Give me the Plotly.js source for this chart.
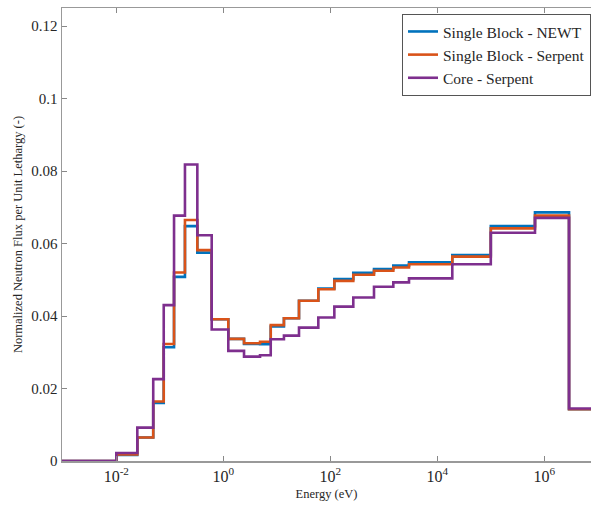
<!DOCTYPE html>
<html>
<head>
<meta charset="utf-8">
<script src="https://cdn.plot.ly/plotly-3.0.1.min.js"></script>
<style>html,body{margin:0;padding:0;background:#fff;}#chart{width:591px;height:506px;}</style>
</head>
<body>
<div id="chart"></div>
<script>
// Group lower edges (eV), last entry is the upper edge of the final group
const energyEdges = [1e-4, 0.01, 0.0247, 0.049, 0.077, 0.12, 0.192, 0.327, 0.607, 1.24, 2.44, 4.86, 7.7, 13.6, 26, 59.7, 119, 269, 656, 1506, 2958, 19066, 1.0e5, 6.7e5, 2.9e6, 2.0e7];

const newtFlux = [0, 0.0017, 0.0065, 0.0160, 0.0314, 0.0508, 0.0648, 0.0575, 0.0391, 0.0337, 0.0323, 0.0322, 0.0371, 0.0394, 0.0442, 0.0476, 0.0502, 0.0519, 0.0530, 0.0539, 0.0548, 0.0568, 0.0648, 0.0686, 0.0143];
const serpentBlockFlux = [0, 0.0018, 0.0065, 0.0164, 0.0323, 0.0520, 0.0665, 0.0582, 0.0391, 0.0337, 0.0325, 0.0329, 0.0375, 0.0394, 0.0442, 0.0474, 0.0497, 0.0514, 0.0525, 0.0534, 0.0543, 0.0564, 0.0642, 0.0677, 0.0143];
const serpentCoreFlux = [0, 0.0022, 0.0092, 0.0226, 0.0430, 0.0677, 0.0818, 0.0623, 0.0363, 0.0304, 0.0288, 0.0292, 0.0336, 0.0346, 0.0368, 0.0396, 0.0426, 0.0451, 0.0481, 0.0493, 0.0504, 0.0543, 0.0630, 0.0671, 0.0145];

const seriesNames = ["Single Block - NEWT", "Single Block - Serpent", "Core - Serpent"];
const seriesColors = ["#0072BD", "#D95319", "#7E2F8E"];
const xTickVals = [1e-2, 1, 1e2, 1e4, 1e6];
const xTickText = ["10<sup>-2</sup>", "10<sup>0</sup>", "10<sup>2</sup>", "10<sup>4</sup>", "10<sup>6</sup>"];
const yTickVals = [0, 0.02, 0.04, 0.06, 0.08, 0.1, 0.12];
const yTickText = ["0", "0.02", "0.04", "0.06", "0.08", "0.1", "0.12"];

function stepTrace(vals, name, color) {
  const y = vals.concat([vals[vals.length - 1]]);
  return {
    x: energyEdges, y: y, name: name, type: 'scatter', mode: 'lines',
    line: {shape: 'hv', color: color, width: 2.6}
  };
}

const data = [
  stepTrace(newtFlux, seriesNames[0], seriesColors[0]),
  stepTrace(serpentBlockFlux, seriesNames[1], seriesColors[1]),
  stepTrace(serpentCoreFlux, seriesNames[2], seriesColors[2])
];

const FAM = 'Liberation Serif, serif';
function f(size) { return {family: FAM, size: size, color: '#262626'}; }

const layout = {
  width: 591, height: 506,
  margin: {l: 62, r: 0, t: 8, b: 45},
  paper_bgcolor: '#fff', plot_bgcolor: '#fff',
  font: f(14),
  showlegend: true,
  legend: {
    x: 1, xanchor: 'right', y: 0.987, yanchor: 'top',
    bordercolor: '#555', borderwidth: 1, bgcolor: '#fff',
    font: f(15.5),
    tracegroupgap: 0, itemwidth: 30
  },
  xaxis: {
    type: 'log', range: [-3.015, 6.873],
    tickvals: xTickVals, ticktext: xTickText,
    ticks: 'inside', ticklen: 5, tickcolor: '#888', tickwidth: 1,
    showline: true, linecolor: '#999', linewidth: 1.5, mirror: 'ticks',
    showgrid: false, zeroline: false,
    tickfont: f(16),
    title: {text: 'Energy (eV)', font: f(12.5), standoff: 5}
  },
  yaxis: {
    range: [0, 0.125],
    tickvals: yTickVals, ticktext: yTickText,
    ticks: 'inside', ticklen: 5, tickcolor: '#888', tickwidth: 1,
    showline: true, linecolor: '#999', linewidth: 1.5,
    showgrid: false, zeroline: false,
    tickfont: f(15),
    title: {text: 'Normalized Neutron Flux per Unit Lethargy (-)', font: f(12.5), standoff: 6}
  }
};

Plotly.newPlot('chart', data, layout, {displayModeBar: false, staticPlot: true});
</script>
</body>
</html>
